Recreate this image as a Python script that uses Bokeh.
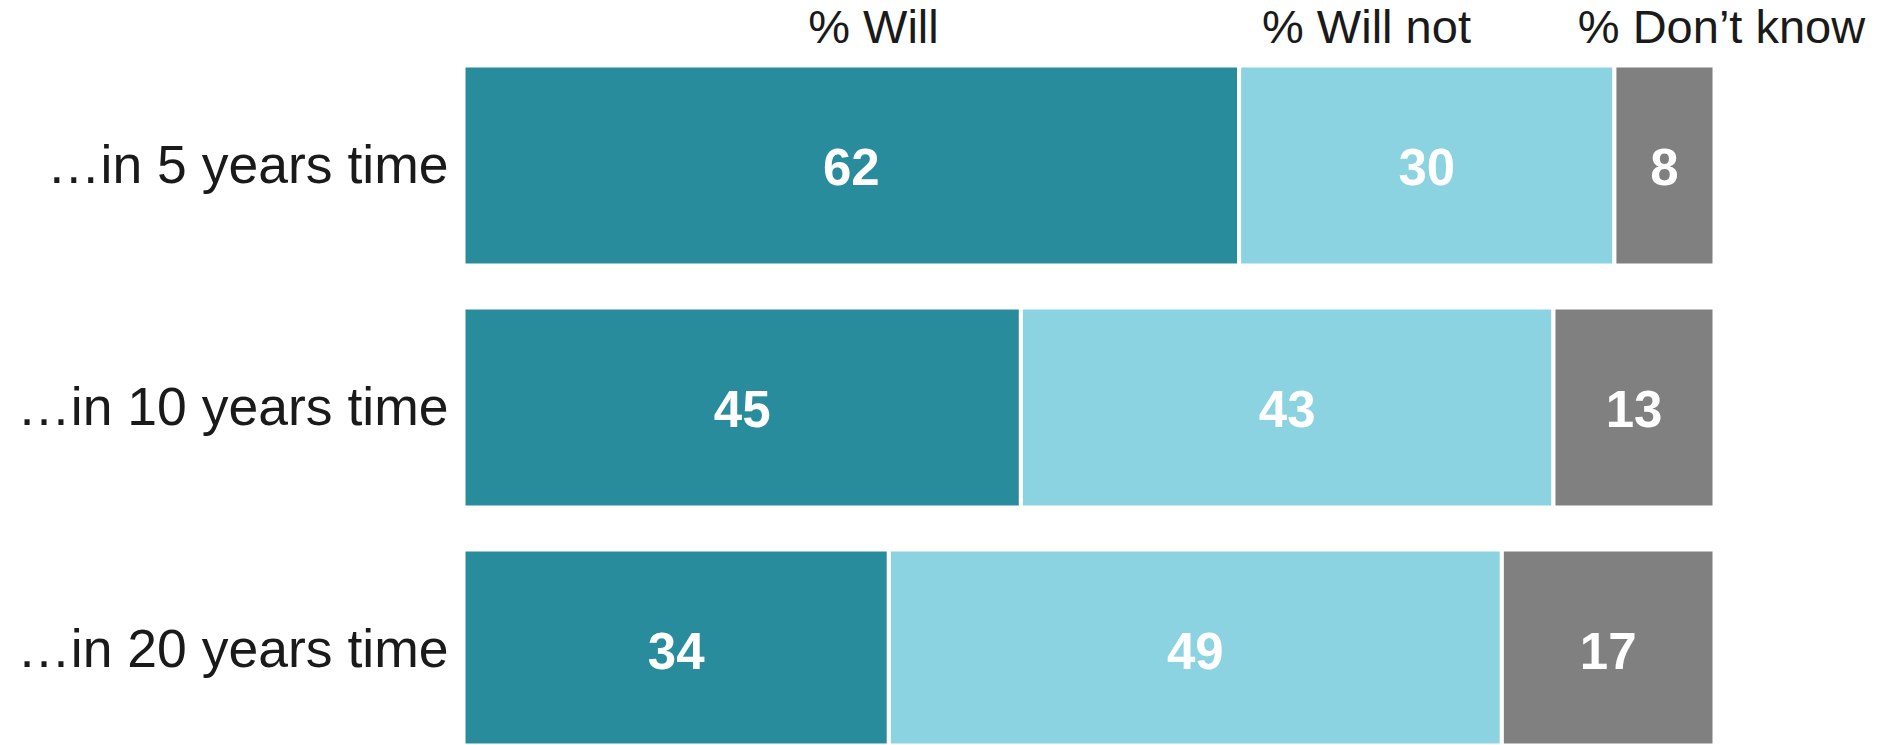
from bokeh.plotting import figure
from bokeh.models import ColumnDataSource, Range1d
from bokeh.core.properties import value
from bokeh.embed import file_html
from bokeh.resources import INLINE

# ---- data ----
categories = ["…in 5 years time", "…in 10 years time", "…in 20 years time"]
series_names = ["% Will", "% Will not", "% Don’t know"]
will = [62, 45, 34]
will_not = [30, 43, 49]
dont_know = [8, 13, 17]

# ---- styles / layout ----
colors = ["#288C9C", "#8BD3E1", "#808080"]
FONT = "Liberation Sans"
W, H = 1884, 745
PX_PER_UNIT_X = 12.51
X0 = 463  # pixel position of value 0 inside figure
PX_PER_ROW = 242.0
ROW0 = 165  # pixel position of first row centre inside figure
TXT_FIX = -19  # correction for text baseline placement

x_start = -X0 / PX_PER_UNIT_X
x_end = (W - X0) / PX_PER_UNIT_X
y_end = ROW0 / PX_PER_ROW
y_start = y_end - H / PX_PER_ROW

p = figure(width=W, height=H, output_backend="svg", toolbar_location=None,
           x_range=Range1d(x_start, x_end), y_range=Range1d(y_start, y_end),
           min_border=0)
p.axis.visible = False
p.grid.visible = False
p.outline_line_color = None
p.background_fill_color = "white"
p.border_fill_color = "white"

# each bar is drawn as shares of its own total (so every bar fills the width)
series = [will, will_not, dont_know]
keys = ["will", "will_not", "dont_know"]
totals = [sum(vals[i] for vals in series) for i in range(len(categories))]
ypos = [-i for i in range(len(categories))]
data = dict(y=ypos)
for k, vals in zip(keys, series):
    data[k] = [v * 100.0 / t for v, t in zip(vals, totals)]
src = ColumnDataSource(data)
p.hbar_stack(keys, y="y", height=200 / PX_PER_ROW,
             fill_color=colors, line_color="white", line_width=4, source=src)

# value labels
lx, ly, lt = [], [], []
for i in range(len(categories)):
    left = 0
    for k, vals in zip(keys, series):
        share = data[k][i]
        lx.append(left + share / 2)
        ly.append(ypos[i])
        lt.append(str(vals[i]))
        left += share
p.text(x=lx, y=ly, text=lt, text_color="white", text_font=value(FONT),
       text_font_style="bold", text_font_size="51px", text_align="center",
       text_baseline="alphabetic", y_offset=20 + TXT_FIX)

# category labels
p.text(x=[0] * len(categories), y=ypos, text=categories, x_offset=-15, y_offset=18 + TXT_FIX,
       text_align="right", text_baseline="alphabetic", text_font=value(FONT),
       text_font_size="53.5px", text_color="#1a1a1a")

# series headers
header_x = [32.77, 72.18, 100.56]
header_y = y_end - 38.7 / PX_PER_ROW
p.text(x=header_x, y=[header_y] * 3, text=series_names, text_align="center",
       text_baseline="alphabetic", text_font=value(FONT), text_font_size="47px",
       text_color="#1a1a1a", y_offset=TXT_FIX + 6)

open("out.html", "w").write(file_html(p, INLINE))
